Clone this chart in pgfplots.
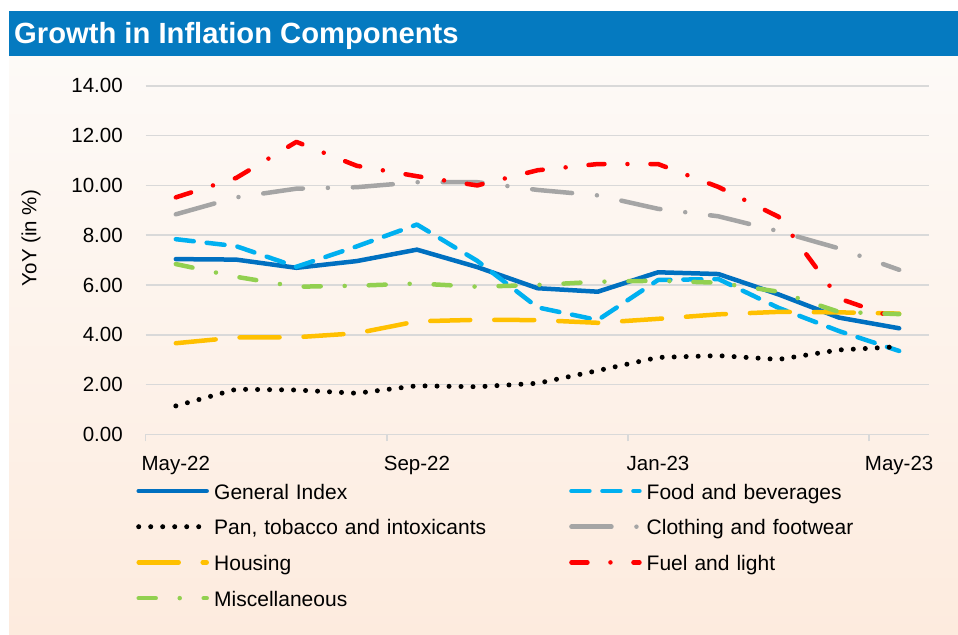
\documentclass[border=0pt]{standalone}
\usepackage{fontspec}
\setmainfont{Liberation Sans}
\usepackage{pgfplots}
\pgfplotsset{compat=1.18}
\definecolor{gi}{RGB}{0,112,192}
\definecolor{food}{RGB}{0,176,240}
\definecolor{cloth}{RGB}{165,165,165}
\definecolor{house}{RGB}{255,192,0}
\definecolor{fuel}{RGB}{255,0,0}
\definecolor{misc}{RGB}{146,208,80}
\definecolor{gridg}{RGB}{217,217,217}
\definecolor{barblue}{RGB}{5,122,192}
\definecolor{bgtop}{RGB}{253,250,247}
\definecolor{bgbot}{RGB}{253,235,222}
\begin{document}
\begin{tikzpicture}[font=\fontsize{20.5bp}{24bp}\selectfont]
\useasboundingbox (0bp,0bp) rectangle (958bp,635bp);
\fill[white] (0bp,0bp) rectangle (958bp,635bp);
\shade[top color=bgtop, bottom color=bgbot] (9bp,0bp) rectangle (958bp,579bp);
\fill[barblue] (9bp,579bp) rectangle (958bp,623.5bp);
\node[anchor=base west, inner sep=0pt, text=white, font=\fontsize{29.2bp}{33bp}\selectfont\bfseries] at (14bp,591bp) {Growth in Inflation Components};
\node[rotate=90, inner sep=0pt] at (31bp,397bp) {YoY (in \%)};
\begin{axis}[
  at={(145.7bp,200.7bp)}, anchor=south west,
  scale only axis, width=783.6bp, height=348.4bp,
  xmin=-0.5, xmax=12.5, ymin=0, ymax=14,
  clip=false,
  axis x line*=bottom, axis y line*=left,
  y axis line style={draw=none},
  x axis line style={draw=gridg, line width=1.5bp, -},
  xtick={0,4,8,12},
  xticklabels={May-22,Sep-22,Jan-23,May-23},
  minor xtick={-0.5,3.5,7.5,11.5},
  major x tick style={draw=none},
  minor x tick style={draw=gridg, line width=1.5bp},
  minor tick length=7bp,
  tick align=outside,
  ytick={0,2,...,14},
  ytick style={draw=none},
  ymajorgrids,
  major grid style={draw=gridg, line width=1.5bp},
  yticklabel style={anchor=east, inner sep=0pt, xshift=-18.5bp},
  xticklabel style={anchor=base, inner sep=0pt, yshift=-32.4bp},
  /pgf/number format/assume math mode=true,
  /pgf/number format/.cd, fixed, fixed zerofill, precision=2,
  /pgfplots/.cd,
  legend columns=2,
  legend cell align=left,
  legend style={at={(axis description cs:-0.0121,-0.1427)}, anchor=north west,
    draw=none, fill=none, inner sep=0pt, outer sep=0pt,
    column sep=5bp, row sep=15.7bp, font=\fontsize{21bp}{24bp}\selectfont,
    nodes={inner sep=0pt, text height=15bp, text depth=5bp, text width=350bp, anchor=base west}},
  legend image code/.code={\draw[#1] (0bp,8bp) -- (68bp,8bp);},
  every axis plot/.append style={line width=4.5bp, line cap=round, line join=round},
]
\addplot[gi] coordinates {(0,7.04)(1,7.02)(2,6.69)(3,6.96)(4,7.42)(5,6.72)(6,5.87)(7,5.73)(8,6.51)(9,6.44)(10,5.62)(11,4.69)(12,4.26)};
\addlegendentry{General Index}
\addplot[food, dash pattern=on 18bp off 13bp] coordinates {(0,7.84)(1,7.56)(2,6.73)(3,7.55)(4,8.43)(5,6.97)(6,5.10)(7,4.59)(8,6.20)(9,6.24)(10,5.08)(11,4.15)(12,3.35)};
\addlegendentry{Food and beverages}
\addplot[black, line width=5bp, dash pattern=on 0bp off 12bp] coordinates {(0,1.14)(1,1.81)(2,1.78)(3,1.65)(4,1.95)(5,1.91)(6,2.05)(7,2.56)(8,3.09)(9,3.16)(10,3.01)(11,3.39)(12,3.52)};
\addlegendentry{Pan, tobacco and intoxicants}
\addplot[cloth, dash pattern=on 40bp off 25bp on 0bp off 25bp] coordinates {(0,8.84)(1,9.52)(2,9.87)(3,9.93)(4,10.13)(5,10.13)(6,9.82)(7,9.60)(8,9.06)(9,8.76)(10,8.16)(11,7.47)(12,6.61)};
\addlegendentry{Clothing and footwear}
\addplot[house, dash pattern=on 40bp off 24bp] coordinates {(0,3.66)(1,3.89)(2,3.90)(3,4.06)(4,4.54)(5,4.60)(6,4.59)(7,4.48)(8,4.64)(9,4.82)(10,4.92)(11,4.90)(12,4.85)};
\addlegendentry{Housing}
\addplot[fuel, dash pattern=on 16bp off 23bp on 0bp off 23bp] coordinates {(0,9.52)(1,10.30)(2,11.75)(3,10.79)(4,10.37)(5,10.00)(6,10.61)(7,10.86)(8,10.86)(9,9.94)(10,8.74)(11,5.46)(12,4.62)};
\addlegendentry{Fuel and light}
\addplot[misc, dash pattern=on 17bp off 24bp on 0bp off 24bp] coordinates {(0,6.84)(1,6.33)(2,5.93)(3,5.97)(4,6.06)(5,5.93)(6,6.00)(7,6.13)(8,6.17)(9,6.09)(10,5.73)(11,4.92)(12,4.83)};
\addlegendentry{Miscellaneous}
\end{axis}
\end{tikzpicture}
\end{document}
